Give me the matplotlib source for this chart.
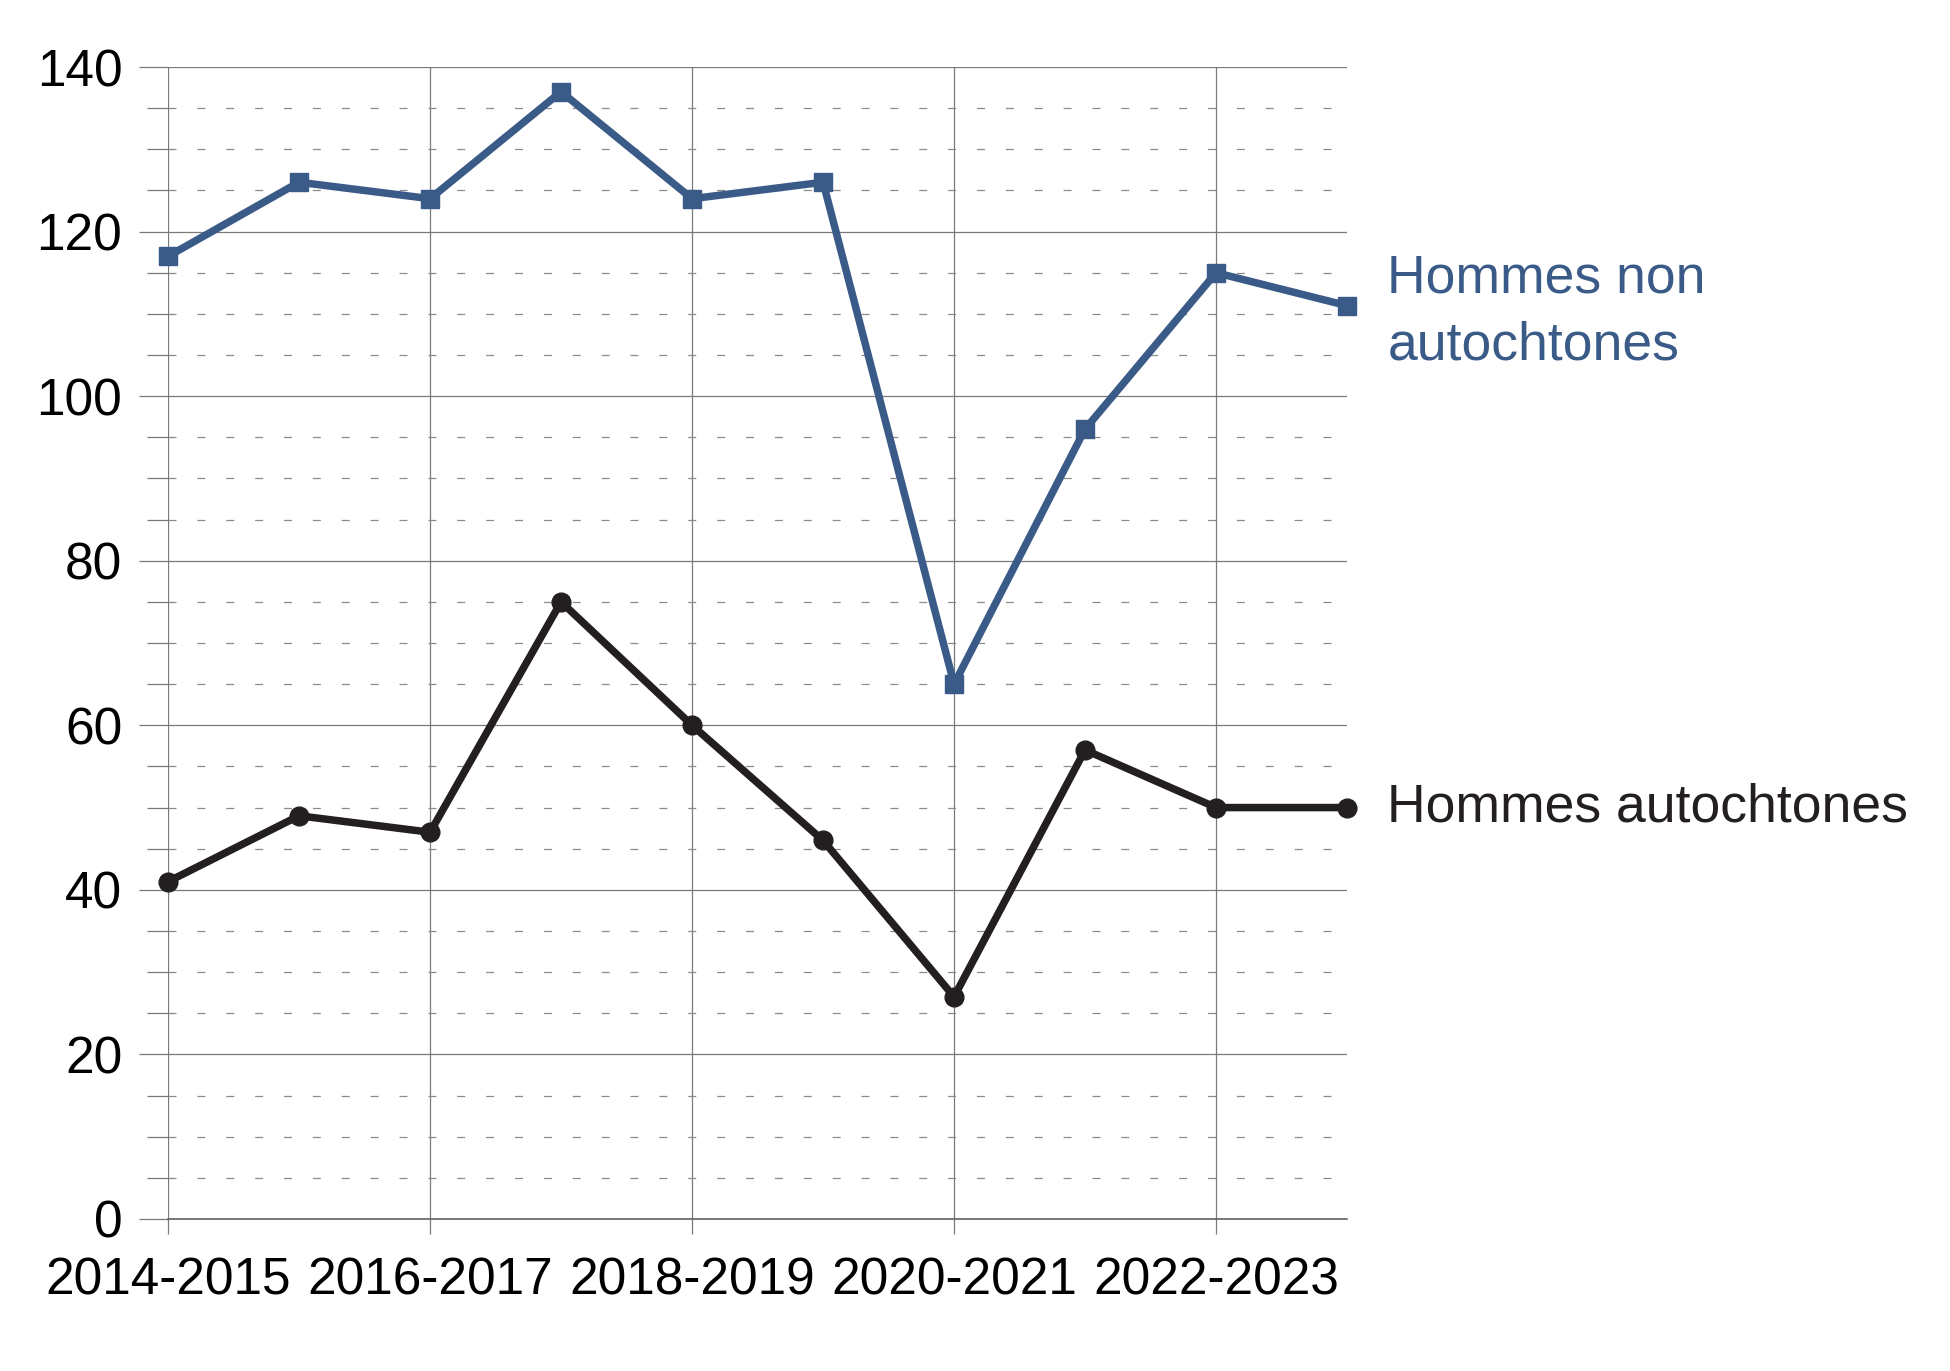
import matplotlib
matplotlib.use("Agg")
import matplotlib.pyplot as plt
from matplotlib.ticker import MultipleLocator, FixedLocator

# données
annees = ["2014-2015", "2015-2016", "2016-2017", "2017-2018", "2018-2019",
          "2019-2020", "2020-2021", "2021-2022", "2022-2023", "2023-2024"]
non_autochtones = [117, 126, 124, 137, 124, 126, 65, 96, 115, 111]
autochtones = [41, 49, 47, 75, 60, 46, 27, 57, 50, 50]

bleu = "#3a5b88"
noir = "#231f20"
gris = "#7a7a7a"

plt.rcParams['font.family'] = ['Liberation Sans', 'DejaVu Sans']

fig = plt.figure(figsize=(19.5, 13.71), dpi=100)
ax = fig.add_axes([0.0862, 0.1109, 0.6046, 0.8402])

x = list(range(len(annees)))

# grille
ax.yaxis.set_major_locator(MultipleLocator(20))
ax.yaxis.set_minor_locator(MultipleLocator(5))
ax.xaxis.set_major_locator(FixedLocator(x[::2]))
ax.set_xticklabels(annees[::2])
ax.grid(which='major', axis='both', color=gris, lw=0.9, ls='-')
ax.grid(which='minor', axis='y', color='#8c8c8c', lw=0.9, ls=(0, (6.4, 16.7)))
ax.axhline(0, color='#555555', lw=1.1, clip_on=False, zorder=1)
ax.set_axisbelow(True)

ax.plot(x, non_autochtones, color=bleu, lw=5.4, marker='s', ms=12.5, clip_on=False, zorder=3)
ax.plot(x, autochtones, color=noir, lw=5.4, marker='o', ms=13.5, clip_on=False, zorder=3)

ax.set_xlim(0, 9)
ax.set_ylim(0, 140)

for s in ax.spines.values():
    s.set_visible(False)

ax.tick_params(axis='y', which='major', length=21, width=0.9, color=gris, pad=12, labelsize=37)
ax.tick_params(axis='y', which='minor', length=15, width=0.9, color=gris)
ax.tick_params(axis='x', which='major', length=11, width=0.9, color=gris, pad=16, labelsize=37)

# étiquettes des séries
ax.annotate("Hommes non\nautochtones", xy=(9, non_autochtones[-1]), xytext=(29, -4.5),
            textcoords='offset points', color=bleu, fontsize=38.5, va='center', ha='left',
            linespacing=1.42, annotation_clip=False)
ax.annotate("Hommes autochtones", xy=(9, autochtones[-1]), xytext=(29, 0),
            textcoords='offset points', color=noir, fontsize=38.5, va='center', ha='left',
            annotation_clip=False)

fig.savefig("out.png", dpi=100, facecolor='white')
